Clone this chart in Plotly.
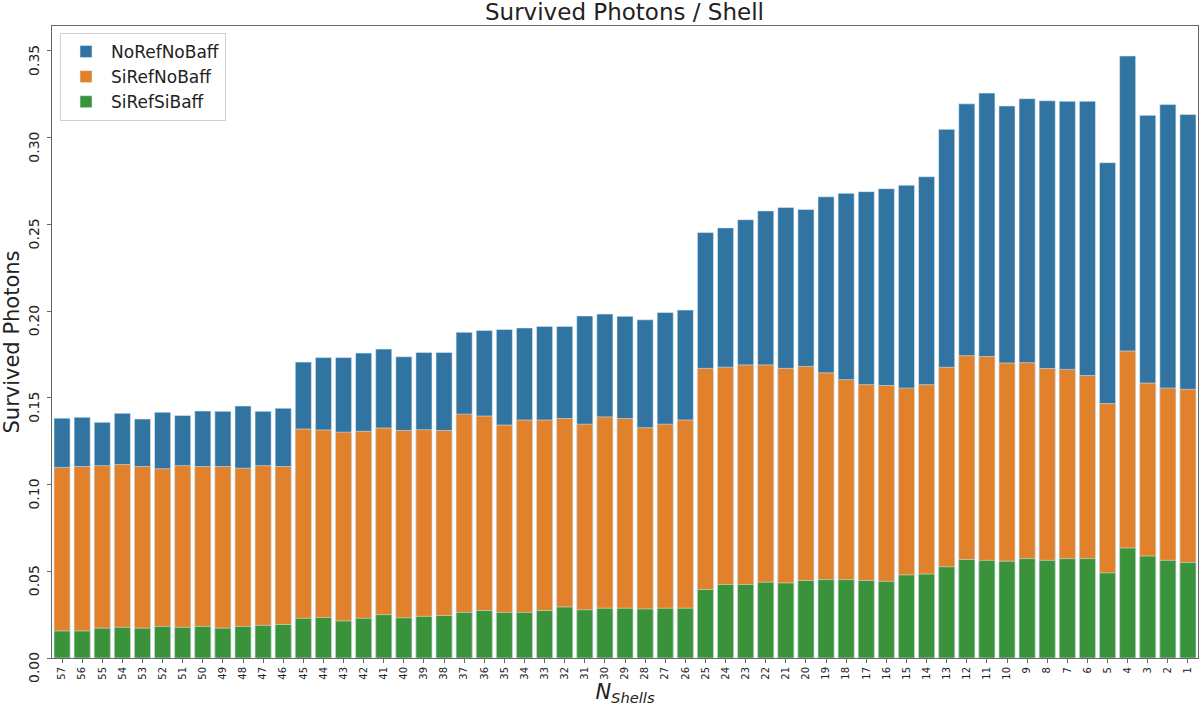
import plotly.graph_objects as go

shells = [str(n) for n in range(57, 0, -1)]

no_ref_no_baff = [
    0.1383, 0.1388, 0.1359, 0.1411, 0.1378, 0.1417, 0.1398, 0.1424, 0.1422, 0.1453,
    0.1422, 0.1440, 0.1706, 0.1732, 0.1732, 0.1758, 0.1781, 0.1737, 0.1762, 0.1762,
    0.1878, 0.1889, 0.1894, 0.1903, 0.1912, 0.1912, 0.1972, 0.1983, 0.1970, 0.1950,
    0.1992, 0.2006, 0.2453, 0.2480, 0.2527, 0.2578, 0.2598, 0.2586, 0.2659, 0.2679,
    0.2689, 0.2706, 0.2726, 0.2775, 0.3048, 0.3195, 0.3257, 0.3183, 0.3225, 0.3213,
    0.3210, 0.3210, 0.2856, 0.3471, 0.3129, 0.3191, 0.3134,
]

si_ref_no_baff = [
    0.1099, 0.1104, 0.1109, 0.1115, 0.1104, 0.1091, 0.1109, 0.1104, 0.1104, 0.1094,
    0.1109, 0.1104, 0.1320, 0.1315, 0.1302, 0.1307, 0.1326, 0.1312, 0.1316, 0.1312,
    0.1406, 0.1395, 0.1343, 0.1372, 0.1372, 0.1381, 0.1348, 0.1390, 0.1381, 0.1328,
    0.1348, 0.1372, 0.1670, 0.1677, 0.1690, 0.1690, 0.1670, 0.1681, 0.1644, 0.1605,
    0.1576, 0.1571, 0.1556, 0.1576, 0.1676, 0.1743, 0.1738, 0.1701, 0.1703, 0.1669,
    0.1664, 0.1629, 0.1467, 0.1770, 0.1585, 0.1556, 0.1549,
]

si_ref_si_baff = [
    0.0156, 0.0156, 0.0172, 0.0177, 0.0172, 0.0182, 0.0177, 0.0182, 0.0172, 0.0182,
    0.0188, 0.0193, 0.0229, 0.0234, 0.0214, 0.0229, 0.0250, 0.0232, 0.0240, 0.0245,
    0.0263, 0.0274, 0.0263, 0.0263, 0.0274, 0.0294, 0.0278, 0.0287, 0.0287, 0.0283,
    0.0287, 0.0287, 0.0395, 0.0424, 0.0424, 0.0437, 0.0433, 0.0447, 0.0452, 0.0452,
    0.0447, 0.0442, 0.0479, 0.0484, 0.0526, 0.0568, 0.0563, 0.0558, 0.0573, 0.0563,
    0.0573, 0.0573, 0.0491, 0.0634, 0.0588, 0.0563, 0.0551,
]

y_tick_vals = [0, 0.05, 0.10, 0.15, 0.20, 0.25, 0.30, 0.35]
y_tick_text = ["0.00", "0.05", "0.10", "0.15", "0.20", "0.25", "0.30", "0.35"]

series = [
    ("NoRefNoBaff", no_ref_no_baff, "#3274a1"),
    ("SiRefNoBaff", si_ref_no_baff, "#e1812c"),
    ("SiRefSiBaff", si_ref_si_baff, "#3a923a"),
]

fig = go.Figure()
for name, vals, col in series:
    fig.add_trace(go.Bar(
        x=shells, y=vals, name=name,
        marker=dict(color=col, line=dict(color="rgba(225,238,250,0.7)", width=0.8)),
    ))

font_family = "DejaVu Sans"
frame = "#666666"

annotations = [
    dict(text=t, x=0, xref="paper", xanchor="right", xshift=-8,
         y=v, yref="y", yanchor="middle", yshift=-10, textangle=-90,
         showarrow=False, font=dict(size=14, family=font_family, color="#222"))
    for v, t in zip(y_tick_vals, y_tick_text)
]

fig.update_layout(
    width=1200, height=709,
    barmode="overlay", bargap=0.2,
    plot_bgcolor="white", paper_bgcolor="white",
    margin=dict(l=52, r=2, t=26, b=51),
    font=dict(family=font_family, color="#222"),
    title=dict(text="Survived Photons / Shell", x=0.5204, xanchor="center",
               y=0.9835, yanchor="middle", font=dict(size=23, family=font_family, color="#222")),
    legend=dict(x=0.007, y=0.989, xanchor="left", yanchor="top",
                bgcolor="rgba(255,255,255,0.8)", bordercolor="#d0d0d0", borderwidth=1,
                font=dict(size=17, family=font_family), traceorder="normal",
                itemwidth=40),
    showlegend=True,
    annotations=annotations,
)
fig.update_xaxes(
    type="category", categoryorder="array", categoryarray=shells,
    range=[-0.5, 56.5],
    showline=True, linecolor=frame, linewidth=1, mirror=True,
    ticks="outside", ticklen=4, tickcolor=frame, tickangle=-90,
    tickfont=dict(size=10, family=font_family),
    title=dict(text="<i>N</i><sub><i>Shells</i></sub>", font=dict(size=21, family=font_family), standoff=4),
    showgrid=False,
)
fig.update_yaxes(
    range=[0, 0.3644],
    tickvals=y_tick_vals, showticklabels=False,
    showline=True, linecolor=frame, linewidth=1, mirror=True,
    ticks="outside", ticklen=4, tickcolor=frame,
    title=dict(text="Survived Photons", font=dict(size=21, family=font_family), standoff=24),
    showgrid=False, zeroline=False,
)

fig.write_html("out.html", config={"displayModeBar": False},
               post_script="document.body.style.margin='0';")
